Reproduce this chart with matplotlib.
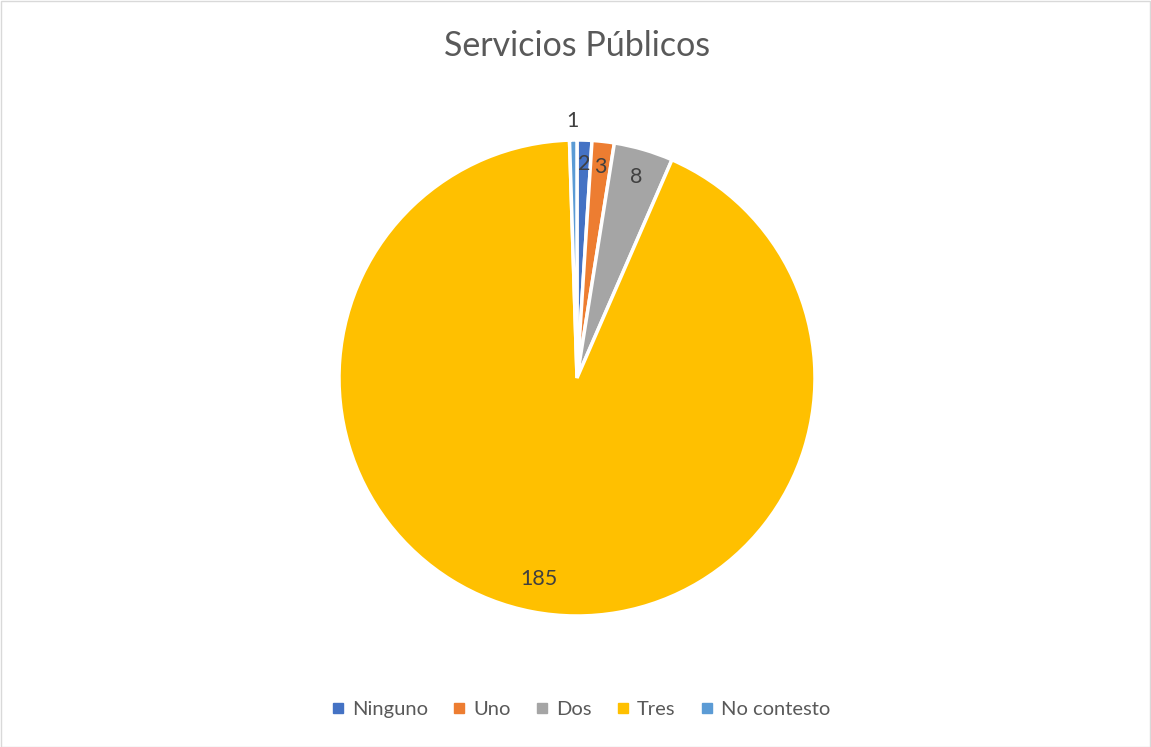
import matplotlib
matplotlib.use("Agg")
import matplotlib.pyplot as plt
import numpy as np
from matplotlib.patches import Rectangle
from matplotlib.lines import Line2D

categories = ["Ninguno", "Uno", "Dos", "Tres", "No contesto"]
values = [2, 3, 8, 185, 1]
colors = ["#4472C4", "#ED7D31", "#A5A5A5", "#FFC000", "#5B9BD5"]
label_r = [0.90, 0.89, 0.88, 0.86, 1.08]

plt.rcParams['font.family'] = ['Lato', 'DejaVu Sans']
W, H = 1151, 747
fig = plt.figure(figsize=(W/100, H/100), dpi=100)
fig.patches.append(Rectangle((0.5/W, 0.5/H), 1-1.5/W, 1-1.5/H, transform=fig.transFigure,
                             fill=False, edgecolor="#D9D9D9", lw=1))
cx, cy, R = 577, 378, 238
ax = fig.add_axes([(cx-R)/W, (H-cy-R)/H, 2*R/W, 2*R/H])
wedges, _ = ax.pie(values, colors=colors, startangle=90, counterclock=False,
                   wedgeprops=dict(edgecolor="white", linewidth=2.5))
ax.set_xlim(-1, 1); ax.set_ylim(-1, 1)
ax.set_aspect('equal')
ax.axis('off')

total = sum(values)
cum = 0
for v, r in zip(values, label_r):
    mid = 90 - (cum + v/2)/total*360
    cum += v
    a = np.deg2rad(mid)
    ax.text(r*np.cos(a), r*np.sin(a), str(v), ha='center', va='center',
            fontsize=15.5, color="#404040")

fig.text(cx/W, 1-46/H, "Servicios Públicos", ha='center', va='center', fontsize=24.5, color="#595959")

handles = [Line2D([], [], marker='s', linestyle='none', markersize=7, color=c) for c in colors]
fig.legend(handles, categories, loc='center', bbox_to_anchor=(581/W, 1-709/H), ncol=5,
           frameon=False, fontsize=14.5, handlelength=0.6, handletextpad=0.4, columnspacing=1.25,
           labelcolor="#595959")
fig.savefig("out.png", dpi=100)
